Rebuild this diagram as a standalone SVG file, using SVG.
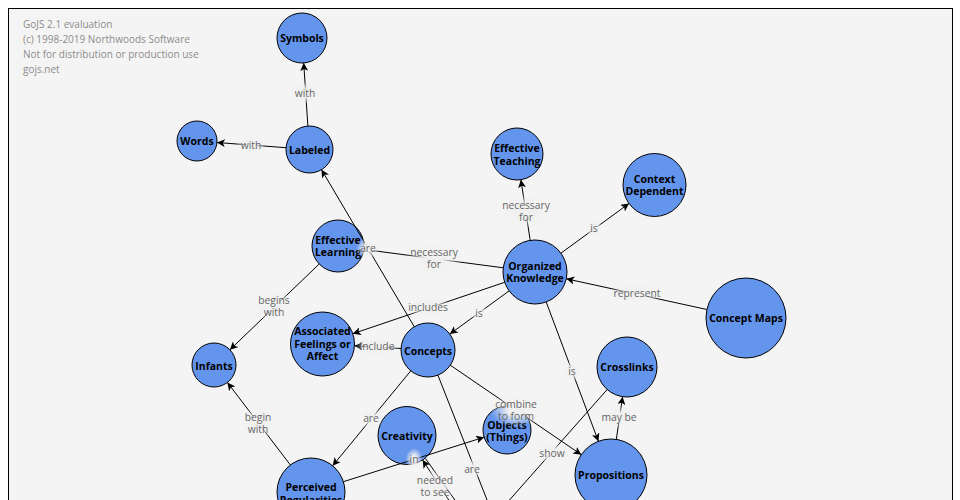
<svg xmlns="http://www.w3.org/2000/svg" width="960" height="500" viewBox="0 0 960 500">
<defs>
<radialGradient id="lg" cx="0.5" cy="0.5" r="0.5">
<stop offset="0" stop-color="rgb(240,240,240)" stop-opacity="1"/>
<stop offset="0.3" stop-color="rgb(240,240,240)" stop-opacity="1"/>
<stop offset="1" stop-color="rgb(240,240,240)" stop-opacity="0"/>
</radialGradient>
<marker id="arr" viewBox="0 0 8 8" refX="8" refY="4" markerWidth="8" markerHeight="8" markerUnits="userSpaceOnUse" orient="auto">
<path d="M0,0 L8,4 L0,8 L2,4 Z" fill="#000"/>
</marker>
</defs>
<style>
.node circle{fill:#6495ed;stroke:#000;stroke-width:1}
.node text{font-family:"Open Sans","Noto Sans",sans-serif;font-size:10.5px;font-weight:bold;fill:#000;text-anchor:middle}
.link path{fill:none;stroke:#000;stroke-width:1}
.link .a{marker-end:url(#arr)}
.lbl rect{fill:url(#lg);stroke:none}
.lbl text{font-family:"Open Sans","Noto Sans",sans-serif;font-size:10.3px;fill:#666;text-anchor:middle}
.wm{font-family:"Open Sans","Noto Sans",sans-serif;font-size:10px;fill:#8c8c8c}
</style>
<rect x="0" y="0" width="960" height="500" fill="#fff"/>
<rect x="8.5" y="8.5" width="944" height="520" fill="#f4f4f4" stroke="#000" stroke-width="1"/>
<text class="wm" x="23" y="28">GoJS 2.1 evaluation</text>
<text class="wm" x="23" y="43">(c) 1998-2019 Northwoods Software</text>
<text class="wm" x="23" y="58">Not for distribution or production use</text>
<text class="wm" x="23" y="73">gojs.net</text>

<g id="nodes">
<g id="symbols" class="node"><circle cx="302" cy="38" r="25"/><text x="302" y="42">Symbols</text></g>
<g id="words" class="node"><circle cx="197" cy="141" r="20"/><text x="197" y="145">Words</text></g>
<g id="labeled" class="node"><circle cx="309.5" cy="149.5" r="23.5"/><text x="309.5" y="153.5">Labeled</text></g>
<g id="effective-teaching" class="node"><circle cx="517" cy="154" r="26"/><text x="517" y="152">Effective</text><text x="517" y="164.5">Teaching</text></g>
<g id="context-dependent" class="node"><circle cx="654.5" cy="185" r="31.5"/><text x="654.5" y="182.5">Context</text><text x="654.5" y="195">Dependent</text></g>
<g id="organized-knowledge" class="node"><circle cx="535" cy="272" r="32"/><text x="535" y="270">Organized</text><text x="535" y="282">Knowledge</text></g>
<g id="concept-maps" class="node"><circle cx="746" cy="318" r="40"/><text x="746" y="322">Concept Maps</text></g>
<g id="crosslinks" class="node"><circle cx="627" cy="367" r="30"/><text x="627" y="370.5">Crosslinks</text></g>
<g id="propositions" class="node"><circle cx="611" cy="475" r="36"/><text x="611" y="479">Propositions</text></g>
<g id="effective-learning" class="node"><circle cx="338" cy="246" r="26"/><text x="338" y="243.5">Effective</text><text x="338" y="256">Learning</text></g>
<g id="associated-feelings" class="node"><circle cx="322.5" cy="344" r="32"/><text x="322.5" y="335">Associated</text><text x="322.5" y="347.5">Feelings or</text><text x="322.5" y="360">Affect</text></g>
<g id="concepts" class="node"><circle cx="428" cy="350" r="27"/><text x="428" y="354.5">Concepts</text></g>
<g id="infants" class="node"><circle cx="214" cy="365" r="22"/><text x="214" y="369.5">Infants</text></g>
<g id="creativity" class="node"><circle cx="407" cy="435.5" r="29"/><text x="407" y="439.5">Creativity</text></g>
<g id="objects" class="node"><circle cx="507" cy="430" r="24"/><text x="507" y="428.5">Objects</text><text x="507" y="441">(Things)</text></g>
<g id="perceived-regularities" class="node"><circle cx="311" cy="492" r="34"/><text x="311" y="491">Perceived</text><text x="311" y="503.5">Regularities</text></g>
</g>

<g id="links">
<g class="link">
<path class="a" d="M307.9,126.1 L303.7,62.9"/>
<path class="a" d="M286.1,147.7 L216.9,142.5"/>
<path class="a" d="M414.3,326.8 L321.5,169.7"/>
<path class="a" d="M503.3,267.8 L363.8,249.4"/>
<path class="a" d="M530.2,240.4 L520.9,179.7"/>
<path class="a" d="M560.9,253.2 L629.0,203.5"/>
<path class="a" d="M706.9,309.5 L566.3,278.8"/>
<path class="a" d="M504.7,282.3 L352.8,333.7"/>
<path class="a" d="M509.1,290.9 L449.8,334.1"/>
<path class="a" d="M546.2,302 L598.4,441.3"/>
<path class="a" d="M401,348.5 L354.4,345.8"/>
<path class="a" d="M319.2,264 L229.9,349.8"/>
<path class="a" d="M290.4,465 L227.4,382.5"/>
<path class="a" d="M410.8,370.8 L332.6,465.8"/>
<path class="a" d="M450.3,365.2 L581.3,454.7"/>
<path class="a" d="M343.4,481.7 L484.1,437.2"/>
<path class="a" d="M616.3,439.4 L622.6,396.7"/>
<path d="M607.2,389.5 L498,513"/>
<path d="M437.9,375.1 L491,510"/>
<path class="a" d="M452,505 L422.6,460"/>
<path d="M425.5,458.5 L457,503"/>
</g>
<g class="lbl">
<rect x="290.5" y="82" width="29" height="22"/><text x="305" y="96.5">with</text>
<rect x="236.5" y="134" width="29" height="22"/><text x="251" y="148.5">with</text>
<rect x="356" y="237" width="24" height="22"/><text x="368" y="251.5">are</text>
<rect x="405.5" y="241" width="57" height="34"/><text x="434" y="255.5">necessary</text><text x="434" y="267.5">for</text>
<rect x="497.5" y="194" width="57" height="34"/><text x="526" y="208.5">necessary</text><text x="526" y="220.5">for</text>
<rect x="586" y="217" width="16" height="22"/><text x="594" y="231.5">is</text>
<rect x="609" y="282" width="56" height="22"/><text x="637" y="296.5">represent</text>
<rect x="403.5" y="296" width="49" height="22"/><text x="428" y="310.5">includes</text>
<rect x="471" y="302" width="16" height="22"/><text x="479" y="316.5">is</text>
<rect x="564" y="360" width="16" height="22"/><text x="572" y="374.5">is</text>
<rect x="355" y="335" width="44" height="22"/><text x="377" y="349.5">include</text>
<rect x="254" y="289" width="40" height="34"/><text x="274" y="303.5">begins</text><text x="274" y="315.5">with</text>
<rect x="240.5" y="406" width="35" height="34"/><text x="258" y="420.5">begin</text><text x="258" y="432.5">with</text>
<rect x="359" y="407" width="24" height="22"/><text x="371" y="421.5">are</text>
<rect x="490.5" y="393" width="51" height="34"/><text x="516" y="407.5">combine</text><text x="516" y="419.5">to form</text>
<rect x="405.5" y="448" width="17" height="22"/><text x="414" y="462.5">in</text>
<rect x="597.5" y="406" width="43" height="22"/><text x="619" y="420.5">may be</text>
<rect x="535" y="442" width="34" height="22"/><text x="552" y="456.5">show</text>
<rect x="460" y="458" width="24" height="22"/><text x="472" y="472.5">are</text>
<rect x="412.5" y="469" width="45" height="34"/><text x="435" y="483.5">needed</text><text x="435" y="495.5">to see</text>
</g>
</g>
</svg>
